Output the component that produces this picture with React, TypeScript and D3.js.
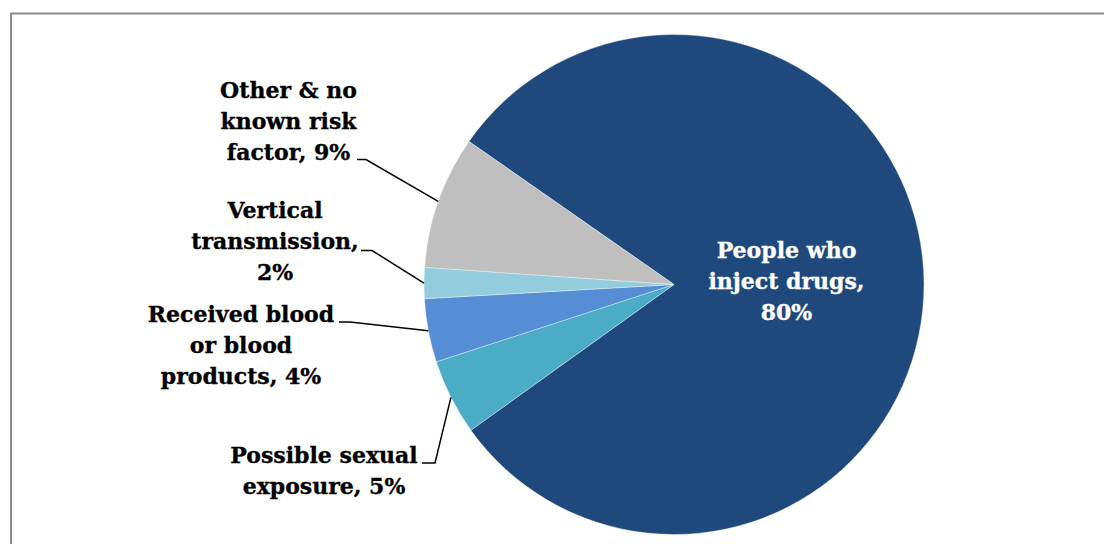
import React from "react";
import * as d3 from "d3";

const categories = [
  "People who inject drugs",
  "Possible sexual exposure",
  "Received blood or blood products",
  "Vertical transmission",
  "Other & no known risk factor",
];
const values = [80.4, 4.9, 4.1, 2.0, 8.6];
const labelLines = [
  ["People who", "inject drugs,", "80%"],
  ["Possible sexual", "exposure, 5%"],
  ["Received blood", "or blood", "products, 4%"],
  ["Vertical", "transmission,", "2%"],
  ["Other & no", "known risk", "factor, 9%"],
];
const colors = ["#1F497D", "#4BACC6", "#558ED5", "#93CDDD", "#BFBFBF"];

// layout (positions of outside labels: text center x, first baseline y, leader elbow)
const outsideLayout = [
  null,
  { x: 324, y: 463, ex: 422, ey: 463, kx: 435 },
  { x: 241, y: 322, ex: 339, ey: 322, kx: 350 },
  { x: 275, y: 218, ex: 361, ey: 250.5, kx: 372 },
  { x: 288.5, y: 98, ex: 357, ey: 159.5, kx: 366 },
];

const W = 1104;
const H = 544;
const cx = 674;
const cy = 284.5;
const R = 250;
const LINE = 31;
const FONT = "'DejaVu Serif', 'Liberation Serif', serif";
const FS = 22;

export default function App() {
  const start = (-55.1 * Math.PI) / 180;
  const pie = d3
    .pie<number>()
    .sort(null)
    .value((d) => d)
    .startAngle(start)
    .endAngle(start + 2 * Math.PI);
  const arcs = pie(values);
  const arc = d3.arc<d3.PieArcDatum<number>>().innerRadius(0).outerRadius(R);
  const labelArc = d3
    .arc<d3.PieArcDatum<number>>()
    .innerRadius(R * 0.9)
    .outerRadius(0);
  const edgeArc = d3.arc<d3.PieArcDatum<number>>().innerRadius(R).outerRadius(R);

  return (
    <div style={{ position: "absolute", left: 0, top: 0 }}>
      <svg width={W} height={H} style={{ display: "block", background: "#fff" }}>
        <rect x={11} y={13.5} width={W} height={H} fill="none" stroke="#8a8a8a" strokeWidth={2} />
        <g transform={`translate(${cx},${cy})`}>
          {arcs.map((a, i) => (
            <path key={categories[i]} d={arc(a) || ""} fill={colors[i]} stroke="#fff" strokeWidth={0.6} strokeOpacity={0.6} />
          ))}
        </g>
        {arcs.map((a, i) => {
          const lines = labelLines[i];
          const lay = outsideLayout[i];
          if (!lay) {
            const [lx, ly] = labelArc.centroid(a);
            const x = cx + lx;
            const y0 = cy + ly - LINE + 5;
            return (
              <text key={i} fill="#fff" stroke="#fff" strokeWidth={0.35} fontFamily={FONT} fontWeight="bold" fontSize={FS} textAnchor="middle">
                {lines.map((l, j) => (
                  <tspan key={j} x={x} y={y0 + j * LINE}>
                    {l}
                  </tspan>
                ))}
              </text>
            );
          }
          const [px, py] = edgeArc.centroid(a);
          return (
            <g key={i}>
              <text fill="#000" stroke="#000" strokeWidth={0.35} fontFamily={FONT} fontWeight="bold" fontSize={FS} textAnchor="middle">
                {lines.map((l, j) => (
                  <tspan key={j} x={lay.x} y={lay.y + j * LINE}>
                    {l}
                  </tspan>
                ))}
              </text>
              <polyline
                points={`${lay.ex},${lay.ey} ${lay.kx},${lay.ey} ${cx + px},${cy + py}`}
                fill="none"
                stroke="#000"
                strokeWidth={1.5}
              />
            </g>
          );
        })}
      </svg>
    </div>
  );
}
